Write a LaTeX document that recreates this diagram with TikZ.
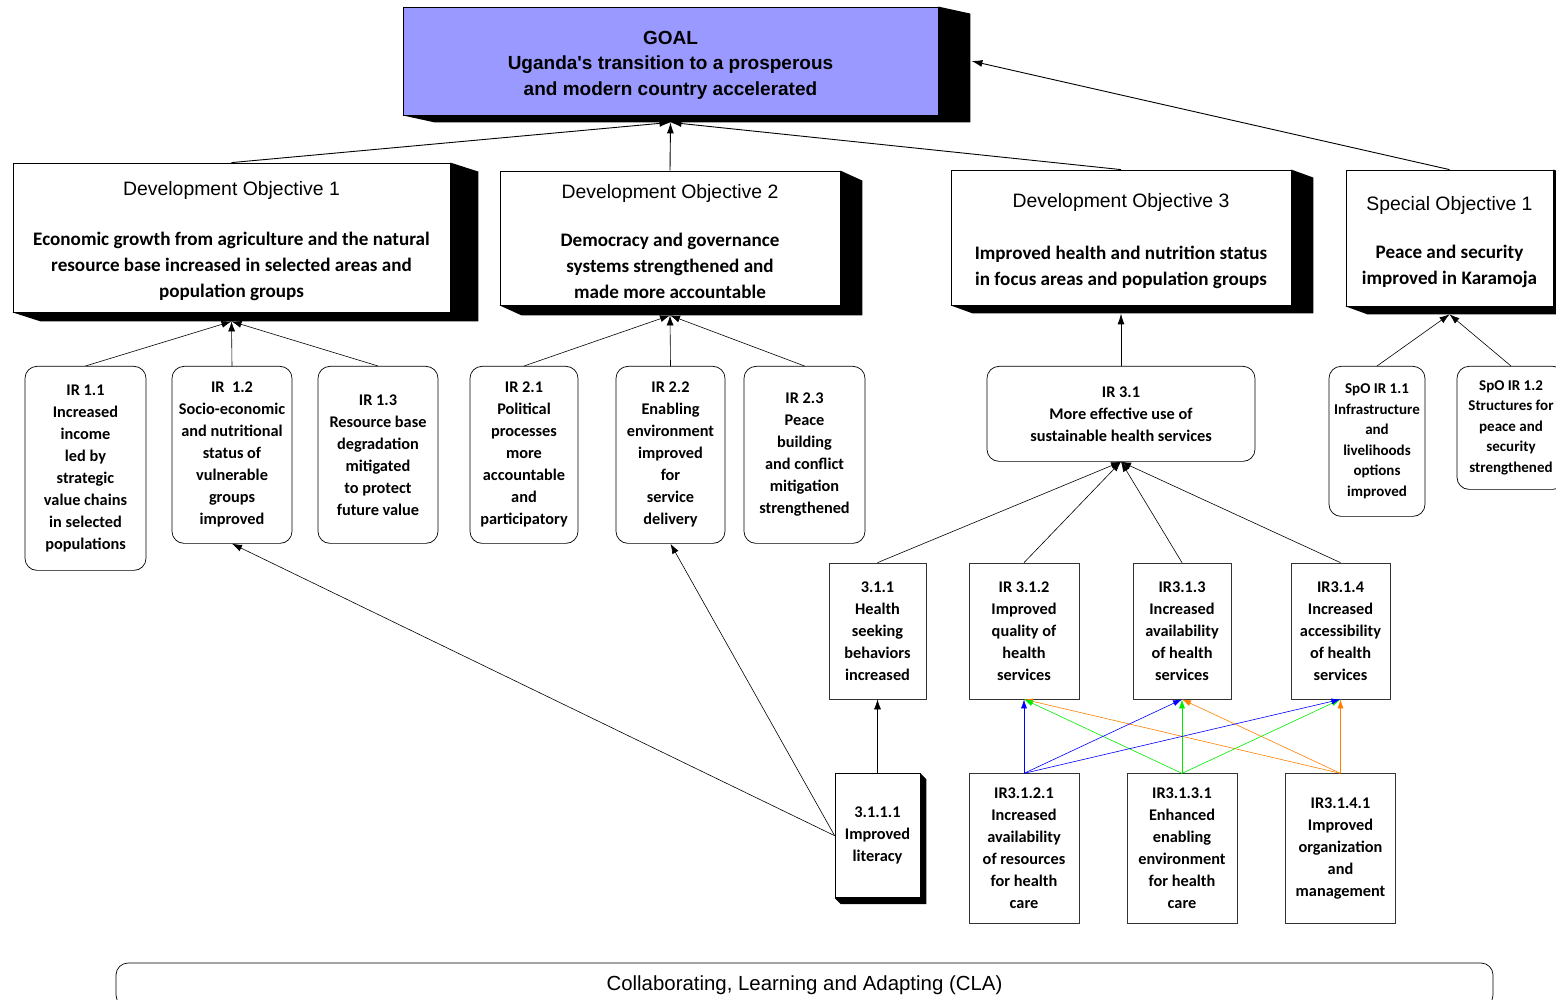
\documentclass[tikz,border=0pt]{standalone}
\usepackage{fontspec}
\setmainfont{Carlito}
\newfontfamily\arialfont{Liberation Sans}
\usetikzlibrary{positioning}
\usetikzlibrary{arrows.meta}
\usetikzlibrary{calc}
\usepackage{xcolor}
\definecolor{goalblue}{RGB}{153,153,255}
\definecolor{linkblue}{RGB}{0,0,255}
\definecolor{linkgreen}{RGB}{0,235,0}
\definecolor{linkorange}{RGB}{255,128,0}

% black extruded shadow on the lower right of a box
\newcommand{\boxshade}[3]{%
  \fill[black] (#1.north east) -- ([shift={(#2,#3)}]#1.north east)
    -- ([shift={(#2,#3)}]#1.south east) -- ([shift={(#2,#3)}]#1.south west)
    -- (#1.south west) -- (#1.south east) -- cycle;}
\newcommand{\dohead}[1]{{\arialfont\mdseries\fontsize{19.4}{26}\selectfont\rule{0pt}{21.5pt}#1}}

\begin{document}
\begin{tikzpicture}[
  x=1pt, y=-1pt,
  goalbox/.style={draw, fill=goalblue, line width=0.8pt, align=center, inner sep=0pt,
    minimum width=535pt, minimum height=108pt,
    font=\arialfont\bfseries\fontsize{19}{25.5}\selectfont},
  dobox/.style={draw, fill=white, line width=0.8pt, align=center, inner sep=0pt,
    font=\bfseries\fontsize{19.1}{26}\selectfont},
  irbox/.style={draw, fill=white, line width=0.7pt, rounded corners=12pt, align=center,
    inner sep=0pt, anchor=north, font=\bfseries\fontsize{16.3}{22}\selectfont,
    execute at begin node={\rule{0pt}{14.5pt}}},
  spobox/.style={irbox, font=\bfseries\fontsize{15}{20.5}\selectfont},
  sqbox/.style={draw=black!80, fill=white, line width=0.7pt, align=center, inner sep=0pt,
    font=\bfseries\fontsize{16.3}{22}\selectfont,
    execute at begin node={\rule{0pt}{14.5pt}}},
  clabox/.style={draw, line width=0.7pt, rounded corners=12pt, inner sep=0pt,
    font=\arialfont\fontsize{20.4}{24}\selectfont},
  arrow/.style={-{Latex[length=10pt,width=7pt]}, line width=0.6pt},
  toparrow/.style={-{Latex[length=11pt,width=7pt]}, line width=0.9pt},
  colarrow/.style={-{Latex[length=9pt,width=6pt]}, line width=0.6pt}
]
\useasboundingbox (0,0) rectangle (1556,1000);

% Goal
\node[goalbox] (goal) at (670.5,61)
{\rule{0pt}{21.5pt}GOAL\\Uganda's transition to a prosperous\\and modern country accelerated};
\boxshade{goal}{32}{7}

% Objectives
\node[dobox, minimum width=437pt, minimum height=149pt] (do1) at (231.5,237.5)
{\dohead{Development Objective 1}\\[24pt]Economic growth from agriculture and the natural\\resource base increased in selected areas and\\population groups};
\boxshade{do1}{28}{9}
\node[dobox, minimum width=340pt, minimum height=134pt] (do2) at (670,238)
{\dohead{Development Objective 2}\\[22pt]Democracy and governance\\systems strengthened and\\made more accountable};
\boxshade{do2}{22}{10}
\node[dobox, minimum width=340pt, minimum height=135pt] (do3) at (1121,237.5)
{\dohead{Development Objective 3}\\[26pt]Improved health and nutrition status\\in focus areas and population groups};
\boxshade{do3}{22}{8}
\node[dobox, minimum width=207pt, minimum height=136pt] (spo1) at (1449.5,238)
{\dohead{Special Objective 1}\\[22pt]Peace and security\\improved in Karamoja};
\boxshade{spo1}{22}{8}

\coordinate (goalin) at ([shift={(0,7)}]goal.south);
\coordinate (goalside) at ([shift={(33,0)}]goal.east);
\coordinate (do1in) at ([shift={(0,9)}]do1.south);
\coordinate (do2in) at ([shift={(0,10)}]do2.south);
\coordinate (do3in) at ([shift={(0,8)}]do3.south);
\coordinate (spo1in) at ([shift={(0,8)}]spo1.south);

\draw[toparrow] (do1.north) -- (goalin);
\draw[toparrow] (do2.north) -- (goalin);
\draw[toparrow] (do3.north) -- (goalin);
\draw[toparrow] (spo1.north) -- (goalside);

% Intermediate results
\node[irbox, minimum width=121pt, minimum height=204pt] (ir11) at (85.5,366)
{IR 1.1\\Increased\\income\\led by\\strategic\\value chains\\in selected\\populations};
\node[irbox, minimum width=120pt, minimum height=177pt] (ir12) at (232,366)
{IR\ \ 1.2\\Socio-economic\\and nutritional\\status of\\vulnerable\\groups\\improved};
\node[irbox, minimum width=120pt, minimum height=177pt] (ir13) at (378,366)
{IR 1.3\\Resource base\\degradation\\mitigated\\to protect\\future value};
\node[irbox, minimum width=108pt, minimum height=177pt] (ir21) at (524,366)
{IR 2.1\\Political\\processes\\more\\accountable\\and\\participatory};
\node[irbox, minimum width=109pt, minimum height=177pt] (ir22) at (670.5,366)
{IR 2.2\\Enabling\\environment\\improved\\for\\service\\delivery};
\node[irbox, minimum width=121pt, minimum height=177pt] (ir23) at (804.5,366)
{IR 2.3\\Peace\\building\\and conflict\\mitigation\\strengthened};
\node[irbox, minimum width=268pt, minimum height=95pt] (ir31) at (1121,366)
{IR 3.1\\More effective use of\\sustainable health services};
\node[spobox, minimum width=96pt, minimum height=150pt] (spoir11) at (1377,366)
{SpO IR 1.1\\Infrastructure\\and\\livelihoods\\options\\improved};
\node[spobox, minimum width=108pt, minimum height=123pt] (spoir12) at (1511,366)
{SpO IR 1.2\\Structures for\\peace and\\security\\strengthened};

\foreach \ir in {ir11, ir12, ir13}
  \draw[arrow] (\ir.north) -- (do1in);
\foreach \ir in {ir21, ir22, ir23}
  \draw[arrow] (\ir.north) -- (do2in);
\draw[toparrow] (ir31.north) -- (do3in);
\foreach \ir in {spoir11, spoir12}
  \draw[arrow] (\ir.north) -- (spo1in);

% Sub-results under IR 3.1
\node[sqbox, minimum width=97pt, minimum height=136pt] (ir311) at (877.5,631)
{3.1.1\\Health\\seeking\\behaviors\\increased};
\node[sqbox, minimum width=110pt, minimum height=136pt] (ir312) at (1024,631)
{IR 3.1.2\\Improved\\quality of\\health\\services};
\node[sqbox, minimum width=98pt, minimum height=136pt] (ir313) at (1182,631)
{IR3.1.3\\Increased\\availability\\of health\\services};
\node[sqbox, minimum width=99pt, minimum height=136pt] (ir314) at (1340.5,631)
{IR3.1.4\\Increased\\accessibility\\of health\\services};

\foreach \ir in {ir311, ir312, ir313, ir314}
  \draw[arrow] (\ir.north) -- (ir31.south);

\node[sqbox, draw=black, minimum width=85pt, minimum height=124pt, below=74pt of ir311] (ir3111)
{3.1.1.1\\Improved\\literacy};
\boxshade{ir3111}{6}{6}
\node[sqbox, minimum width=110pt, minimum height=150pt, below=74pt of ir312] (ir3121)
{IR3.1.2.1\\Increased\\availability\\of resources\\for health\\care};
\node[sqbox, minimum width=110pt, minimum height=150pt, below=74pt of ir313] (ir3131)
{IR3.1.3.1\\Enhanced\\enabling\\environment\\for health\\care};
\node[sqbox, minimum width=110pt, minimum height=150pt, below=74pt of ir314] (ir3141)
{IR3.1.4.1\\Improved\\organization\\and\\management};

\draw[arrow] (ir3111.north) -- (ir311.south);
\draw[arrow] (ir3111.west) -- (ir12.south);
\draw[arrow] (ir3111.west) -- (ir22.south);

\foreach \ir in {ir312, ir313, ir314} {
  \draw[colarrow, linkorange] (ir3141.north) -- (\ir.south);
  \draw[colarrow, linkgreen] (ir3131.north) -- (\ir.south);
  \draw[colarrow, linkblue] (ir3121.north) -- (\ir.south);
}

% Collaborating, Learning and Adapting
\node[clabox, minimum width=1377pt, minimum height=44pt] (cla) at (804.5,985)
{Collaborating, Learning and Adapting (CLA)};

\end{tikzpicture}
\end{document}
